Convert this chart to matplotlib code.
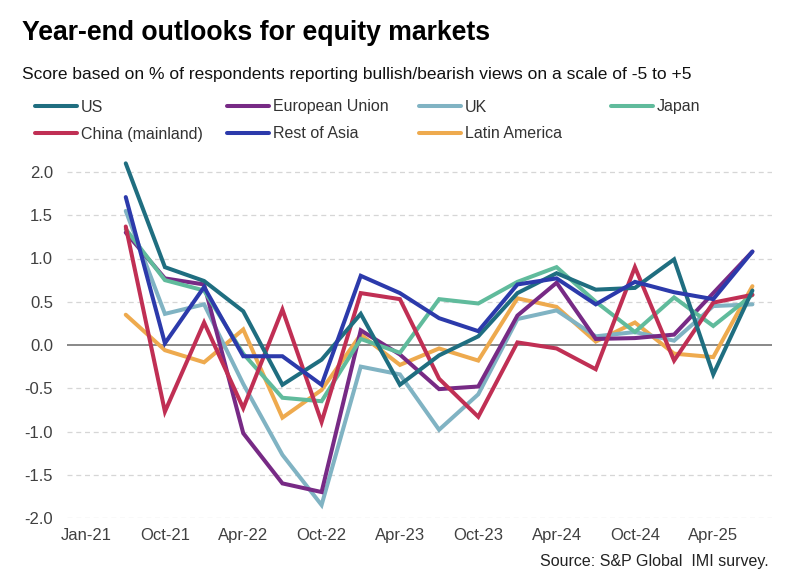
import matplotlib
matplotlib.use("Agg")
import matplotlib.pyplot as plt
from matplotlib.lines import Line2D
import numpy as np

# ---- data ----
periods = ["Jul-21", "Oct-21", "Jan-22", "Apr-22", "Jul-22", "Oct-22", "Jan-23", "Apr-23",
           "Jul-23", "Oct-23", "Jan-24", "Apr-24", "Jul-24", "Oct-24", "Jan-25", "Apr-25", "Jul-25"]
tick_labels = ["Jan-21", "Oct-21", "Apr-22", "Oct-22", "Apr-23", "Oct-23", "Apr-24", "Oct-24", "Apr-25"]

us = [2.10, 0.90, 0.74, 0.39, -0.46, -0.17, 0.36, -0.46, -0.12, 0.10, 0.60, 0.83, 0.64, 0.66, 0.99, -0.34, 0.63]
eu = [1.30, 0.77, 0.70, -1.02, -1.60, -1.70, 0.17, -0.11, -0.51, -0.48, 0.34, 0.72, 0.07, 0.08, 0.12, 0.60, 1.08]
uk = [1.55, 0.36, 0.47, -0.45, -1.27, -1.85, -0.25, -0.34, -0.98, -0.57, 0.30, 0.40, 0.10, 0.15, 0.05, 0.45, 0.47]
japan = [1.34, 0.75, 0.63, -0.10, -0.61, -0.65, 0.07, -0.09, 0.53, 0.48, 0.73, 0.90, 0.50, 0.15, 0.55, 0.22, 0.58]
china = [1.37, -0.77, 0.26, -0.73, 0.41, -0.89, 0.60, 0.53, -0.39, -0.83, 0.03, -0.04, -0.28, 0.90, -0.18, 0.49, 0.58]
rest_asia = [1.71, 0.02, 0.67, -0.13, -0.13, -0.46, 0.80, 0.60, 0.31, 0.16, 0.70, 0.77, 0.47, 0.73, 0.61, 0.53, 1.08]
latam = [0.35, -0.06, -0.20, 0.18, -0.84, -0.52, 0.12, -0.23, -0.04, -0.18, 0.54, 0.44, 0.04, 0.26, -0.10, -0.14, 0.68]

series = [
    ("US", us, "#1f6e80"),
    ("European Union", eu, "#772a85"),
    ("UK", uk, "#80b3c3"),
    ("Japan", japan, "#60bb9c"),
    ("China (mainland)", china, "#c02f54"),
    ("Rest of Asia", rest_asia, "#2c3aab"),
    ("Latin America", latam, "#eeaa4e"),
]
draw_order = ["Latin America", "UK", "European Union", "Japan", "China (mainland)", "US", "Rest of Asia"]

W, H = 793, 581
fig = plt.figure(figsize=(W / 100, H / 100), dpi=100)
font = ["Liberation Sans", "Arial", "DejaVu Sans"]

# axes placement (pixels)
x_left, x_right = 67, 772
y_top_val, y_bot_val = 2.2, -2.0
px_per_unit = 86.5
y_zero = 345
y_top_px = y_zero - y_top_val * px_per_unit
y_bot_px = y_zero - y_bot_val * px_per_unit
ax = fig.add_axes([x_left / W, 1 - y_bot_px / H, (x_right - x_left) / W, (y_bot_px - y_top_px) / H])

x = np.arange(len(periods))
lookup = {n: (v, c) for n, v, c in series}
for z, name in enumerate(draw_order):
    vals, col = lookup[name]
    ax.plot(x, vals, color=col, lw=2.9, solid_joinstyle="miter", solid_capstyle="round",
            zorder=3 + z, clip_on=False)

ax.set_xlim(-1.5, len(periods) - 0.5)
ax.set_ylim(y_bot_val, y_top_val)
yt = np.arange(-2.0, 2.01, 0.5)
ax.set_yticks(yt)
ax.set_yticklabels([f"{v:.1f}" for v in yt], fontfamily=font, fontsize=12, color="#404040")
tick_pos = np.arange(-1, len(periods), 2)
ax.set_xticks(tick_pos)
ax.set_xticklabels(tick_labels, fontfamily=font, fontsize=12, color="#404040")
ax.tick_params(length=0)
ax.tick_params(axis="x", pad=7)
ax.tick_params(axis="y", pad=10)
for s in ax.spines.values():
    s.set_visible(False)
for v in yt:
    if abs(v) > 1e-9:
        ax.axhline(v, color="#d6d6d6", lw=0.9, ls=(0, (4, 3)), zorder=1)
ax.axhline(0, color="#888888", lw=1.4, zorder=2)

# title / subtitle
fig.text(22 / W, 1 - 39.5 / H, "Year-end outlooks for equity markets", fontfamily=font,
         fontweight="bold", fontsize=19.2, va="baseline", ha="left", color="black")
fig.text(22 / W, 1 - 79.5 / H,
         "Score based on % of respondents reporting bullish/bearish views on a scale of -5 to +5",
         fontfamily=font, fontsize=12.5, va="baseline", ha="left", color="#111111")

# legend (manual grid)
legend_names = ["US", "European Union", "UK", "Japan", "China (mainland)", "Rest of Asia", "Latin America"]
col_x = [35, 227, 419, 611]
row_y = [106, 133]
for i, name in enumerate(legend_names):
    r, c = divmod(i, 4)
    lx = col_x[c]
    ly = 1 - row_y[r] / H
    col = lookup[name][1]
    fig.add_artist(Line2D([lx / W, (lx + 42) / W], [ly, ly], color=col, lw=2.9,
                          solid_capstyle="round", transform=fig.transFigure))
    fig.text((lx + 46) / W, 1 - (row_y[r] + 5.5) / H, name, fontfamily=font, fontsize=11.5,
             va="baseline", ha="left", color="#333333")

fig.text(769 / W, 1 - 566 / H, "Source: S&P Global  IMI survey.", fontfamily=font, fontsize=11.5,
         ha="right", va="baseline", color="#222222")

fig.savefig("out.png", dpi=100)
